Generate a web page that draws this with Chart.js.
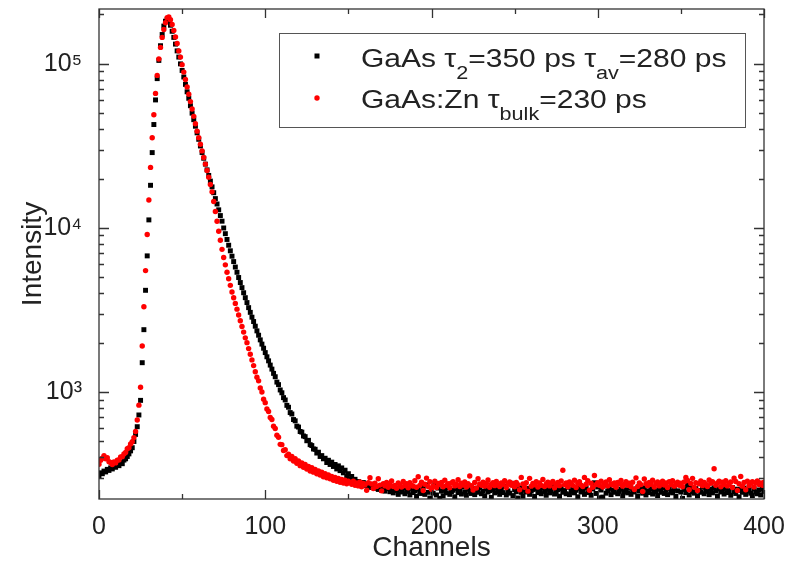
<!DOCTYPE html>
<html>
<head>
<meta charset="utf-8">
<script src="https://cdn.jsdelivr.net/npm/chart.js@4.4.1/dist/chart.umd.min.js"></script>
<style>
  html, body { margin: 0; padding: 0; background: #fff; }
</style>
</head>
<body>
<canvas id="chart" width="794" height="562"></canvas>
<script>
// counts per channel, index = channel number (0..400)
const gaasCounts = [
  309, 322, 318, 330, 326, 338, 333, 345, 340, 352, 348, 360, 356, 372, 366, 385, 392, 405, 420, 438,
  458, 500, 552, 615, 725, 890,
  1510, 2400, 4170, 6760, 11200, 18200, 28800, 42700, 60300, 81300, 105000, 129000, 151000, 170000, 182000,
  186000, 182000, 172000, 158000, 145000, 132000, 120000, 110000, 100000, 91200,
  83200, 75000, 67600, 61700, 55600, 50100, 45700, 41700, 38000, 34700,
  31600, 28800, 26600, 24500, 22600, 20900, 19300, 17800, 16400, 15100,
  14000, 12900, 11900, 11000, 10000,
  9230, 8510, 7850, 7260, 6730, 6240, 5780, 5370, 4990, 4650,
  4330, 4030, 3760, 3510, 3270, 3060, 2860, 2690, 2520, 2360,
  2220, 2080, 1960, 1850, 1740, 1640, 1550, 1460, 1380,
  1300, 1240, 1150, 1110, 1030, 990, 925, 895, 830, 808,
  750, 735, 680, 668, 620, 612,
  575, 570, 540, 535, 505, 508, 478, 472, 450, 448,
  425, 430, 405, 410, 392, 395, 372, 384, 362, 374,
  352, 362, 340, 355, 332, 345, 322, 334, 305, 318,
  296, 306, 285, 294, 280,
  285, 279, 276, 281, 270, 273, 266, 271, 262, 268,
  259, 264, 255, 261, 252, 266, 249, 258, 262, 247,
  255, 243, 260, 251, 238, 257, 246, 262, 240, 253,
  248, 236, 259, 244, 251, 232, 256, 247, 241, 263,
  238, 272, 245, 226, 257, 242, 276, 236, 260, 225,
  249, 233, 255, 243, 261, 238, 247, 252, 230, 258,
  244, 251, 239, 264, 246, 235, 256, 248, 241, 259,
  237, 253, 245, 262, 240, 249, 233, 257, 246, 251,
  228, 255, 243, 260, 247, 238, 252, 244, 266, 236,
  250, 242, 278, 234, 254, 247, 226, 261, 245, 232,
  253, 246, 259, 238, 249, 255, 231, 257, 244, 251,
  240, 262, 248, 235, 256, 243, 250, 265, 239, 247,
  254, 232, 258, 245, 251, 240, 263, 237, 249, 256,
  243, 252, 230, 259, 246, 254, 238, 261, 244, 250,
  235, 257, 280, 241, 264, 227, 253, 229, 271, 242,
  250, 259, 237, 252, 245, 262, 240, 248, 256, 233,
  247, 254, 243, 260, 238, 251, 246, 257, 231, 249,
  255, 242, 261, 236, 250, 244, 258, 239, 253, 247,
  234, 256, 245, 262, 241, 252, 237, 259, 248, 243,
  257, 231, 250, 276, 246, 225, 255, 244, 270, 236,
  260, 247, 242, 258, 233, 251, 245, 263, 240, 254,
  248, 237, 256, 243, 261, 250, 232, 257, 246, 253,
  239, 259, 244, 251, 235, 262, 247, 241, 256, 230,
  252, 245, 260, 238, 249, 255, 242, 234, 258, 246,
  240, 253, 236, 257, 248
];

const gaasZnCounts = [
  363, 384, 395, 410, 392, 398, 376, 372, 362, 375, 370, 384, 386, 402, 404, 420, 428, 452, 458, 483,
  498, 528, 575, 676, 832, 1070,
  1910, 3310, 5500, 9120, 14800, 23400, 35500, 49000, 66100, 85100, 107000, 126000, 145000, 162000,
  178000, 191000, 193000, 186000, 174000,
  160000, 146000, 133000, 120000, 110000, 98900, 89100, 80400, 72400, 65300,
  58900, 53100, 47900, 43200, 38900, 35500, 32400, 29500, 26900, 24500,
  22400, 20400, 18400, 16600, 14500, 12600, 11000, 9550, 8410, 7410,
  6610, 5960, 5370, 4900, 4470, 4070, 3760, 3470, 3200, 2950,
  2720, 2510, 2320, 2140, 2000, 1840, 1700, 1570, 1450, 1330,
  1230, 1170, 1060, 1000, 905, 862, 788, 762, 700, 680,
  620, 600, 545, 530, 480, 478, 440, 445, 410, 418,
  392, 405, 380, 392, 368, 381, 356, 370, 348, 362,
  340, 352, 330, 346, 325, 338, 318, 331, 312, 325,
  305, 318, 300, 312, 296, 306, 290, 302, 286, 298,
  282, 293, 279, 290, 276, 286,
  281, 274, 286, 270, 279, 268, 283, 265, 277, 272,
  252, 280, 301, 275, 258, 278, 266, 296, 271, 250,
  276, 268, 281, 263, 273, 287, 266, 270, 259, 279,
  272, 264, 285, 269, 276, 261, 280, 271, 267, 288,
  263, 305, 270, 282, 251, 274, 299, 266, 284, 256,
  268, 286, 262, 277, 273, 281, 265, 290, 270, 276,
  261, 279, 284, 268, 274, 292, 266, 278, 271, 283,
  264, 276, 308, 269, 253, 281, 260, 296, 275, 270,
  282, 267, 277, 291, 263, 274, 280, 269, 285, 272,
  266, 279, 274, 288, 262, 276, 283, 270, 277, 265,
  281, 273, 254, 302, 275, 263, 280, 249, 298, 267,
  277, 272, 284, 264, 279, 270, 293, 266, 275, 282,
  268, 278, 285, 261, 274, 281, 269, 287, 334, 272,
  279, 265, 283, 276, 270, 290, 262, 277, 284, 271,
  266, 302, 274, 288, 252, 278, 263, 310, 273, 280,
  270, 286, 264, 277, 283, 268, 292, 275, 271, 279,
  263, 281, 276, 289, 267, 274, 284, 270, 278, 265,
  282, 255, 300, 266, 279, 273, 248, 295, 276, 269,
  281, 274, 290, 264, 277, 283, 268, 275, 286, 271,
  279, 262, 284, 273, 288, 267, 276, 282, 270, 278,
  265, 283, 302, 289, 254, 277, 298, 263, 280, 251,
  276, 287, 269, 281, 274, 266, 291, 278, 284, 341,
  270, 279, 286, 265, 282, 273, 288, 268, 277, 283,
  262, 299, 285, 251, 276, 306, 267, 281, 254, 286,
  269, 278, 284, 264, 280, 287, 273, 279, 270, 282
];

const xTicks = [0, 100, 200, 300, 400];
const xMinorTicks = [50, 150, 250, 350];
const yTicks = [1000, 10000, 100000];
const yTickLabels = ['10³', '10⁴', '10⁵'];

// legend lines, split in runs so the subscripts can be drawn smaller
const legendLines = [
  [['GaAs ', 0], ['τ', 0], ['2', 1], ['=350 ps ', 0], ['τ', 0], ['av', 1], ['=280 ps', 0]],
  [['GaAs:Zn ', 0], ['τ', 0], ['bulk', 1], ['=230 ps', 0]]
];

const FONT = '"Liberation Sans", Arial, sans-serif';
const TEXT = '#222';

const toPoints = arr => arr.map((v, i) => ({x: i, y: v}));

const framePlugin = {
  id: 'frame',
  afterDraw(chart) {
    const {ctx, chartArea: a, scales: {x, y}} = chart;
    ctx.save();
    ctx.strokeStyle = '#333';
    ctx.lineWidth = 1.3;
    ctx.beginPath();
    const xt = (v, len) => {
      const px = Math.round(x.getPixelForValue(v)) + 0.5;
      ctx.moveTo(px, a.bottom); ctx.lineTo(px, a.bottom - len);
      ctx.moveTo(px, a.top); ctx.lineTo(px, a.top + len);
    };
    const yt = (v, len) => {
      const py = Math.round(y.getPixelForValue(v)) + 0.5;
      ctx.moveTo(a.left, py); ctx.lineTo(a.left + len, py);
      ctx.moveTo(a.right, py); ctx.lineTo(a.right - len, py);
    };
    xTicks.forEach(v => xt(v, 9));
    xMinorTicks.forEach(v => xt(v, 5));
    yTicks.forEach(v => yt(v, 10));
    [100, 1000, 10000, 100000].forEach(d => {
      for (let m = 2; m <= 9; m++) {
        const v = m * d;
        if (v > y.min && v < y.max) yt(v, 5);
      }
    });
    ctx.stroke();
    ctx.strokeRect(a.left, a.top, a.right - a.left, a.bottom - a.top);
    ctx.restore();
  }
};

const legendPlugin = {
  id: 'sketchLegend',
  afterDraw(chart) {
    const {ctx} = chart;
    ctx.save();
    ctx.fillStyle = '#fff';
    ctx.fillRect(279, 33, 466, 94);
    ctx.strokeStyle = '#555';
    ctx.lineWidth = 1;
    ctx.strokeRect(279.5, 33.5, 466, 94);

    ctx.fillStyle = '#000';
    ctx.fillRect(314.5, 53.5, 5, 5);
    ctx.fillStyle = '#f00';
    ctx.beginPath();
    ctx.arc(317, 98, 2.7, 0, Math.PI * 2);
    ctx.fill();

    // the original legend text is drawn wide, so stretch it a little
    const baselines = [67, 108];
    ctx.fillStyle = TEXT;
    ctx.textBaseline = 'alphabetic';
    legendLines.forEach((runs, i) => {
      ctx.save();
      ctx.translate(361, baselines[i]);
      ctx.scale(1.2, 1);
      let x = 0;
      runs.forEach(([t, sub]) => {
        ctx.font = sub ? `18px ${FONT}` : `25px ${FONT}`;
        ctx.fillText(t, x, sub ? 12 : 0);
        x += ctx.measureText(t).width;
      });
      ctx.restore();
    });
    ctx.restore();
  }
};

new Chart(document.getElementById('chart'), {
  type: 'scatter',
  data: {
    datasets: [
      {
        label: 'GaAs',
        data: toPoints(gaasCounts),
        pointStyle: 'rect',
        pointRadius: 3.5,
        pointBorderWidth: 0,
        backgroundColor: '#000',
        order: 2
      },
      {
        label: 'GaAs:Zn',
        data: toPoints(gaasZnCounts),
        pointStyle: 'circle',
        pointRadius: 2.7,
        pointBorderWidth: 0,
        backgroundColor: '#f00',
        order: 1
      }
    ]
  },
  options: {
    responsive: false,
    animation: false,
    devicePixelRatio: 1,
    layout: {padding: {top: 9, right: 30, bottom: 0, left: 0}},
    plugins: {legend: {display: false}, tooltip: {enabled: false}},
    scales: {
      x: {
        type: 'linear',
        min: 0,
        max: 400,
        grid: {display: false},
        border: {display: false},
        afterBuildTicks: s => { s.ticks = xTicks.map(v => ({value: v})); },
        afterFit: s => { s.height = 63; s.paddingLeft = 0; s.paddingRight = 0; },
        ticks: {
          color: TEXT,
          font: {family: FONT, size: 25},
          padding: 5,
          maxRotation: 0,
          autoSkip: false
        },
        title: {
          display: true,
          text: 'Channels',
          color: TEXT,
          font: {family: FONT, size: 28, lineHeight: 1},
          padding: {top: 0, bottom: 0}
        }
      },
      y: {
        type: 'logarithmic',
        min: 223,
        max: 216000,
        grid: {display: false},
        border: {display: false},
        afterBuildTicks: s => { s.ticks = yTicks.map(v => ({value: v})); },
        afterFit: s => { s.width = 99; s.paddingTop = 0; s.paddingBottom = 0; },
        ticks: {
          color: TEXT,
          font: {family: FONT, size: 25},
          padding: 9,
          autoSkip: false,
          callback: v => yTickLabels[yTicks.indexOf(v)] || ''
        },
        title: {
          display: true,
          text: 'Intensity',
          color: TEXT,
          font: {family: FONT, size: 28, lineHeight: 1},
          padding: {top: 19, bottom: 0}
        }
      }
    }
  },
  plugins: [framePlugin, legendPlugin]
});
</script>
</body>
</html>
